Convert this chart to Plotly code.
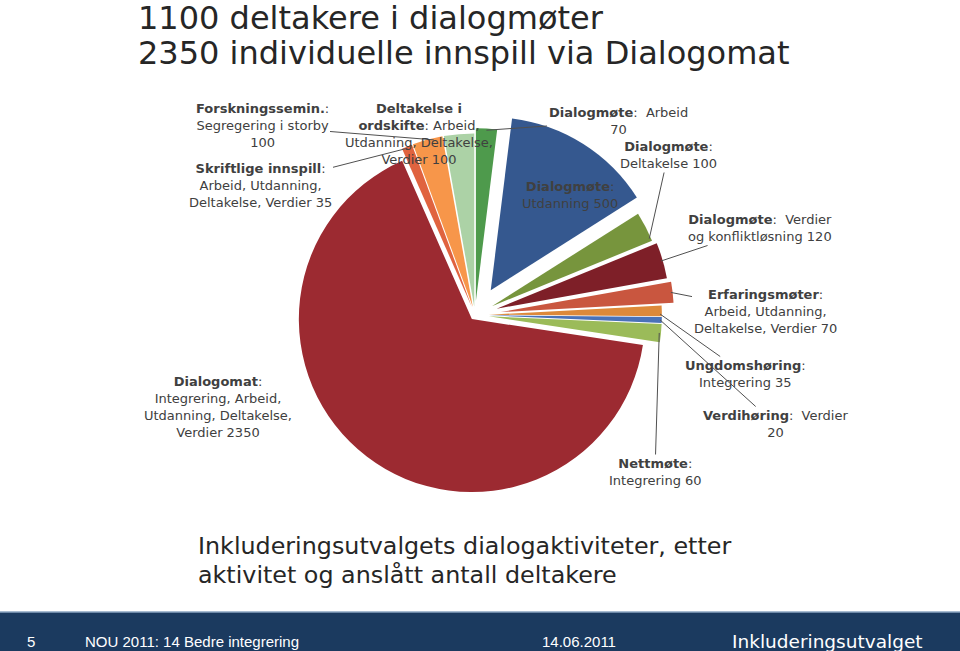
import math
import plotly.graph_objects as go

W, H = 960, 651

# ---- data ----
labels = [
    "Dialogmøte: Arbeid",
    "Dialogmøte: Utdanning",
    "Dialogmøte: Deltakelse",
    "Dialogmøte: Verdier og konfliktløsning",
    "Erfaringsmøter: Arbeid, Utdanning, Deltakelse, Verdier",
    "Ungdomshøring: Integrering",
    "Verdihøring: Verdier",
    "Nettmøte: Integrering",
    "Dialogomat: Integrering, Arbeid, Utdanning, Deltakelse, Verdier",
    "Skriftlige innspill: Arbeid, Utdanning, Deltakelse, Verdier",
    "Forskningssemin.: Segregering i storby",
    "Deltakelse i ordskifte: Arbeid, Utdanning, Deltakelse, Verdier",
]
values = [70, 500, 100, 120, 70, 35, 20, 60, 2350, 35, 100, 100]
colors = ["#4e9a4c", "#35588f", "#77953d", "#7e1f28", "#c9563f", "#dd893a",
          "#4a72b8", "#9bbb59", "#9c2a31", "#e0633f", "#f7964a", "#acd2a6"]
pulls = [0.08, 0.17, 0.11, 0.13, 0.15, 0.08, 0.08, 0.08, 0.03, 0.05, 0.05, 0.05]

label_texts = [
    "<b>Dialogmøte</b>:  Arbeid<br>70",
    "<b>Dialogmøte</b>:<br>Utdanning 500",
    "<b>Dialogmøte</b>:<br>Deltakelse 100",
    "<b>Dialogmøte</b>:  Verdier<br>og konfliktløsning 120",
    "<b>Erfaringsmøter</b>:<br>Arbeid, Utdanning,<br>Deltakelse, Verdier 70",
    "<b>Ungdomshøring</b>:<br>Integrering 35",
    "<b>Verdihøring</b>:  Verdier<br>20",
    "<b>Nettmøte</b>:<br>Integrering 60",
    "<b>Dialogomat</b>:<br>Integrering, Arbeid,<br>Utdanning, Deltakelse,<br>Verdier 2350",
    "<b>Skriftlige innspill</b>:<br>Arbeid, Utdanning,<br>Deltakelse, Verdier 35",
    "<b>Forskningssemin.</b>:<br>Segregering i storby<br>100",
    "<b>Deltakelse i</b><br><b>ordskifte</b>: Arbeid,<br>Utdanning, Deltakelse,<br>Verdier 100",
]
# label placement (pixel centre of text) and whether a leader line is drawn
label_pos = [(618, 121), (570, 195), (668, 155), (760, 228), (765, 311), (745, 374),
             (775, 424), (655, 472), (218, 407), (260, 186), (262, 126), (419, 134)]
leader = [True, False, True, True, True, True, True, True, False, True, True, False]
# where along each slice (0 = start, 1 = end) the leader line touches
leader_frac = [0.5, 0.5, 0.9, 0.5, 0.5, 0.8, 0.5, 0.5, 0.5, 0.5, 0.7, 0.5]

title_lines = ["1100 deltakere i dialogmøter", "2350 individuelle innspill via Dialogomat"]
caption_lines = ["Inkluderingsutvalgets dialogaktiviteter, etter", "aktivitet og anslått antall deltakere"]
footer = {"page": "5", "left": "NOU 2011: 14 Bedre integrering", "date": "14.06.2011",
          "right": "Inkluderingsutvalget"}

# ---- pie geometry ----
cx, cy, r = 475, 315, 173
max_pull = max(pulls)
half = r * (1 + max_pull)
dom_x = [(cx - half) / W, (cx + half) / W]
dom_y = [1 - (cy + half) / H, 1 - (cy - half) / H]

fig = go.Figure(go.Pie(
    labels=labels, values=values, sort=False, direction="clockwise", rotation=0,
    marker=dict(colors=colors, line=dict(width=0)), pull=pulls,
    textinfo="none", hoverinfo="label+value", showlegend=False,
    domain=dict(x=dom_x, y=dom_y),
))

total = sum(values)
cum = 0
annotations = []
for v, p, txt, (tx, ty), ld, fr in zip(values, pulls, label_texts, label_pos, leader, leader_frac):
    mid = (cum + v / 2) / total * 2 * math.pi
    touch = (cum + v * fr) / total * 2 * math.pi
    cum += v
    font = dict(family="DejaVu Sans", size=13, color="#404040")
    if ld:
        px = cx + p * r * math.sin(mid) + r * 0.99 * math.sin(touch)
        py = cy - p * r * math.cos(mid) - r * 0.99 * math.cos(touch)
        annotations.append(dict(
            x=px / W, y=1 - py / H, xref="paper", yref="paper", text=txt,
            showarrow=True, arrowhead=0, arrowwidth=1, arrowcolor="#505050",
            ax=tx - px, ay=ty - py, axref="pixel", ayref="pixel",
            align="center", font=font,
        ))
    else:
        annotations.append(dict(
            x=tx / W, y=1 - ty / H, xref="paper", yref="paper", text=txt,
            showarrow=False, align="center", xanchor="center", yanchor="middle", font=font,
        ))

for i, line in enumerate(title_lines):
    annotations.append(dict(x=136 / W, y=1 - (18 + 35 * i) / H, xref="paper", yref="paper",
                            text=line, showarrow=False, xanchor="left", yanchor="middle",
                            font=dict(family="DejaVu Sans", size=32, color="#262626")))
for i, line in enumerate(caption_lines):
    annotations.append(dict(x=196 / W, y=1 - (546 + 29 * i) / H, xref="paper", yref="paper",
                            text=line, showarrow=False, xanchor="left", yanchor="middle",
                            font=dict(family="DejaVu Sans", size=23.8, color="#262626")))

fy = 1 - 641 / H
annotations += [
    dict(x=25 / W, y=fy, text=footer["page"], xanchor="left",
         font=dict(family="Liberation Sans", size=15, color="white")),
    dict(x=83 / W, y=fy, text=footer["left"], xanchor="left",
         font=dict(family="Liberation Sans", size=15, color="white")),
    dict(x=540 / W, y=fy, text=footer["date"], xanchor="left",
         font=dict(family="Liberation Sans", size=15, color="white")),
    dict(x=730 / W, y=fy, text=footer["right"], xanchor="left",
         font=dict(family="DejaVu Sans", size=18.5, color="white")),
]
for a in annotations[-4:]:
    a.update(xref="paper", yref="paper", showarrow=False, yanchor="middle")

shapes = [
    dict(type="rect", xref="paper", yref="paper", x0=0, x1=1, y0=0, y1=1 - 612 / H,
         fillcolor="#1b3a5f", line=dict(width=0), layer="below"),
    dict(type="line", xref="paper", yref="paper", x0=0, x1=1, y0=1 - 612 / H, y1=1 - 612 / H,
         line=dict(color="#8ba5c1", width=1.5)),
]

fig.update_layout(
    width=W, height=H, margin=dict(l=0, r=0, t=0, b=0),
    paper_bgcolor="white", plot_bgcolor="white",
    annotations=annotations, shapes=shapes,
)
fig.write_html("out.html")
